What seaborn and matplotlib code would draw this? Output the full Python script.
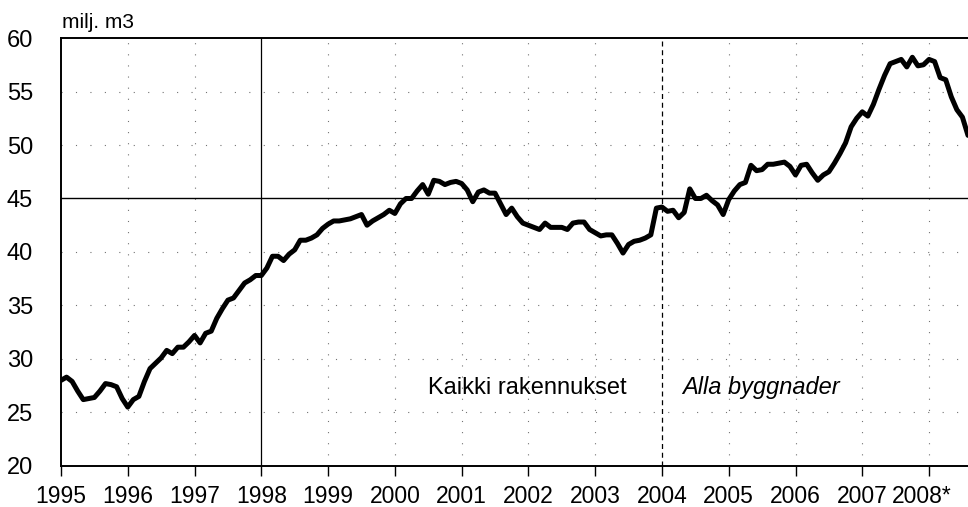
import numpy as np
import pandas as pd
import matplotlib
matplotlib.use("Agg")
import matplotlib.pyplot as plt
import matplotlib.transforms as mtransforms
import seaborn as sns

# monthly values, milj. m3
v1995 = [28.0, 28.3, 27.9, 27.0, 26.2, 26.3, 26.4, 27.0, 27.7, 27.6, 27.4, 26.3]
v1996 = [25.5, 26.2, 26.5, 27.9, 29.1, 29.6, 30.1, 30.8, 30.5, 31.1, 31.1, 31.6]
v1997 = [32.2, 31.5, 32.4, 32.6, 33.8, 34.7, 35.5, 35.7, 36.4, 37.1, 37.4, 37.8]
v1998 = [37.8, 38.5, 39.6, 39.6, 39.2, 39.8, 40.2, 41.1, 41.1, 41.3, 41.6, 42.2]
v1999 = [42.6, 42.9, 42.9, 43.0, 43.1, 43.3, 43.5, 42.5, 42.9, 43.2, 43.5, 43.9]
v2000 = [43.6, 44.5, 45.0, 45.0, 45.7, 46.3, 45.4, 46.7, 46.6, 46.3, 46.5, 46.6]
v2001 = [46.4, 45.8, 44.7, 45.6, 45.8, 45.5, 45.5, 44.5, 43.5, 44.1, 43.3, 42.7]
v2002 = [42.5, 42.3, 42.1, 42.7, 42.3, 42.3, 42.3, 42.1, 42.7, 42.8, 42.8, 42.1]
v2003 = [41.8, 41.5, 41.6, 41.6, 40.8, 39.9, 40.7, 41.0, 41.1, 41.3, 41.6, 44.1]
v2004 = [44.2, 43.8, 43.9, 43.2, 43.7, 45.9, 45.0, 45.0, 45.3, 44.8, 44.4, 43.5]
v2005 = [44.9, 45.7, 46.3, 46.5, 48.1, 47.6, 47.7, 48.2, 48.2, 48.3, 48.4, 48.0]
v2006 = [47.2, 48.1, 48.2, 47.4, 46.7, 47.2, 47.5, 48.3, 49.2, 50.2, 51.7, 52.5]
v2007 = [53.1, 52.7, 53.8, 55.2, 56.5, 57.6, 57.8, 58.0, 57.3, 58.2, 57.4, 57.5]
v2008 = [58.0, 57.8, 56.3, 56.1, 54.5, 53.3, 52.6, 50.9]

years = list(range(1995, 2009))
year_labels = [str(y) for y in years[:-1]] + ["2008*"]
y_ticks = [20, 25, 30, 35, 40, 45, 50, 55, 60]

values = (v1995 + v1996 + v1997 + v1998 + v1999 + v2000 + v2001 + v2002
          + v2003 + v2004 + v2005 + v2006 + v2007 + v2008)
df = pd.DataFrame({"aika": 1995 + np.arange(len(values)) / 12.0,
                   "milj_m3": values})

sns.set_theme(style="white")
plt.rcParams["font.family"] = ["Liberation Sans", "DejaVu Sans"]
plt.rcParams["text.color"] = "black"
plt.rcParams["xtick.color"] = "black"
plt.rcParams["ytick.color"] = "black"

fig = plt.figure(figsize=(9.68, 5.07), dpi=100)
ax = fig.add_axes([0.063, 0.081, 0.937, 0.844])

# grid: faint dotted lines, a few stronger ones like in the print
for y in years[1:]:
    if y == 1998:
        ax.axvline(y, color="black", lw=0.9, zorder=1)
    elif y == 2004:
        ax.axvline(y, color="black", lw=0.9, ls=(0, (4, 3)), zorder=1)
    else:
        ax.axvline(y, color="0.45", lw=0.8, ls=(0, (1, 9)), zorder=1)
for v in y_ticks[1:-1]:
    if v == 45:
        ax.axhline(v, color="black", lw=1.0, zorder=1)
    else:
        ax.axhline(v, color="0.45", lw=0.8, ls=(0, (1, 12)), zorder=1)

sns.lineplot(data=df, x="aika", y="milj_m3", color="black", lw=3.6, ax=ax, zorder=3)

ax.set_xlim(1995, 1995 + (len(values) - 1) / 12.0)
ax.set_ylim(20, 60)
ax.set_xticks(years)
ax.set_xticklabels(year_labels)
ax.set_yticks(y_ticks)
ax.set_xlabel("")
ax.set_ylabel("")
ax.tick_params(axis="x", direction="out", length=7, width=1, color="black",
               labelcolor="black", labelsize=16.5, pad=7, bottom=True)
ax.tick_params(axis="y", length=0, labelcolor="black", labelsize=17, pad=20)

# the starred year label sits a little left of its tick in the print
last = ax.get_xticklabels()[-1]
last.set_transform(last.get_transform()
                   + mtransforms.ScaledTranslation(-0.07, 0, fig.dpi_scale_trans))

for side in ["left", "bottom", "top"]:
    ax.spines[side].set_color("black")
    ax.spines[side].set_linewidth(1.4)
ax.spines["right"].set_visible(False)

ax.text(1995.02, 60.95, "milj. m3", fontsize=15, ha="left", va="baseline")
ax.text(2000.49, 27.3, "Kaikki rakennukset", fontsize=17, ha="left", va="center")
ax.text(2004.31, 27.3, "Alla byggnader", fontsize=17, style="italic",
        ha="left", va="center")

fig.savefig("out.png", dpi=100)
